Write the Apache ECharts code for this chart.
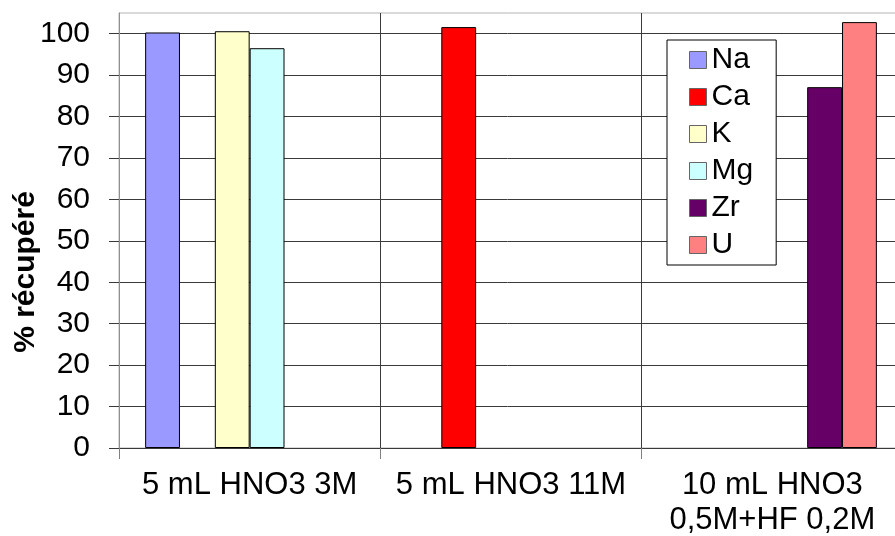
<!DOCTYPE html>
<html>
<head>
<meta charset="utf-8">
<script src="https://cdn.jsdelivr.net/npm/echarts@6/dist/echarts.min.js"></script>
<style>
  html, body { margin: 0; padding: 0; background: #fff; }
  #chart { width: 895px; height: 536px; }
</style>
</head>
<body>
<div id="chart"></div>
<script>
// Digestion conditions (x categories)
const categories = ['5 mL HNO3 3M', '5 mL HNO3 11M', '10 mL HNO3\n0,5M+HF 0,2M'];

// Recovered fraction (%) per element and condition; null = not measured
const naValues = [100.3, null, null];
const caValues = [null, 101.6, null];
const kValues  = [100.6, null, null];
const mgValues = [96.5, null, null];
const zrValues = [null, null, 87.1];
const uValues  = [null, null, 102.8];

// Y axis ticks
const yTicks = [0, 10, 20, 30, 40, 50, 60, 70, 80, 90, 100];
const yMax = 105;

const elements = [
  { name: 'Na', data: naValues, color: '#9999FF' },
  { name: 'Ca', data: caValues, color: '#FF0000' },
  { name: 'K',  data: kValues,  color: '#FFFFCC' },
  { name: 'Mg', data: mgValues, color: '#CCFFFF' },
  { name: 'Zr', data: zrValues, color: '#660066' },
  { name: 'U',  data: uValues,  color: '#FF8080' }
];

const FONT = '"Liberation Sans", Arial, sans-serif';

// split lines: one per tick plus the top edge, which is lighter
const gridLineColors = yTicks.map(() => '#3a3a3a').concat(['#b4b4b4']);

const chart = echarts.init(document.getElementById('chart'), null, { renderer: 'canvas' });

chart.setOption({
  animation: false,
  backgroundColor: '#ffffff',
  textStyle: { fontFamily: FONT, color: '#000' },
  grid: {
    left: 119,
    top: 13,
    width: 784,
    bottom: 88,
    outerBoundsMode: 'none',
    containLabel: false,
    show: true,
    borderColor: '#b4b4b4',
    borderWidth: 1,
    backgroundColor: 'transparent'
  },
  legend: {
    orient: 'vertical',
    left: 667,
    top: 40,
    padding: [5, 23, 5, 22],
    backgroundColor: '#ffffff',
    borderColor: '#000',
    borderWidth: 1,
    itemWidth: 17,
    itemHeight: 17,
    itemGap: 7,
    itemTextGap: 8,
    icon: 'rect',
    itemStyle: { borderColor: '#666', borderWidth: 1 },
    textStyle: { fontFamily: FONT, fontSize: 30, color: '#000' },
    data: elements.map(e => e.name)
  },
  xAxis: {
    type: 'category',
    data: categories,
    boundaryGap: true,
    axisLine: { lineStyle: { color: '#3a3a3a', width: 1 } },
    axisTick: { show: true, length: 11, lineStyle: { color: '#808080' } },
    splitLine: { show: true, lineStyle: { color: ['#909090', '#3a3a3a', '#3a3a3a', '#3a3a3a'], width: 1 } },
    axisLabel: {
      fontFamily: FONT,
      fontSize: 31,
      color: '#000',
      margin: 20,
      lineHeight: 35,
      interval: 0
    }
  },
  yAxis: {
    type: 'value',
    min: 0,
    max: yMax,
    interval: 10,
    axisLine: { show: true, lineStyle: { color: '#909090', width: 1 } },
    axisTick: { show: true, inside: false, length: 10, customValues: yTicks, lineStyle: { color: '#3a3a3a' } },
    splitLine: { show: true, lineStyle: { color: gridLineColors, width: 1 } },
    axisLabel: {
      customValues: yTicks,
      fontFamily: FONT,
      fontSize: 30,
      color: '#000',
      margin: 29
    }
  },
  graphic: [{
    type: 'text',
    x: 26,
    y: 272,
    rotation: Math.PI / 2,
    style: {
      text: '% récupéré',
      font: 'bold 30px ' + FONT,
      fill: '#000',
      align: 'center',
      verticalAlign: 'middle'
    }
  }],
  series: elements.map(e => ({
    name: e.name,
    type: 'bar',
    data: e.data,
    barGap: '0%',
    barCategoryGap: '20%',
    itemStyle: { color: e.color, borderColor: '#000', borderWidth: 1 }
  }))
});
</script>
</body>
</html>
